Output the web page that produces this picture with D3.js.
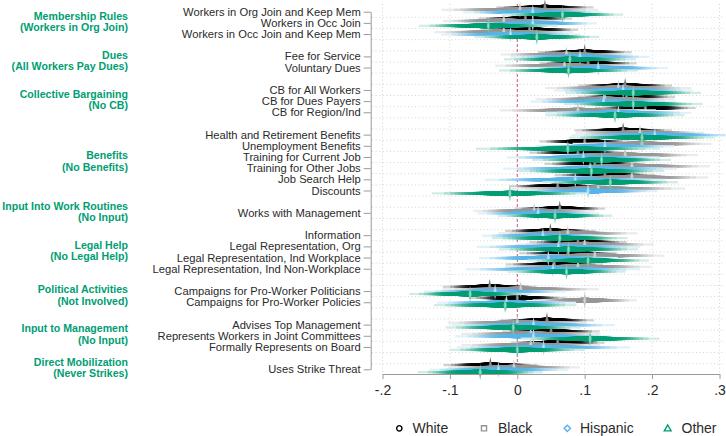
<!DOCTYPE html>
<html>
<head>
<meta charset="utf-8">
<script src="https://cdn.jsdelivr.net/npm/d3@7"></script>
<style>
  body { margin: 0; background: #fff; }
  svg text { font-family: "Liberation Sans", Arial, sans-serif; }
</style>
</head>
<body>
<svg id="chart" width="726" height="436"></svg>
<script>
// ---- data -------------------------------------------------------------
const rowLabels = [
  "Workers in Org Join and Keep Mem", "Workers in Occ Join", "Workers in Occ Join and Keep Mem",
  "Fee for Service", "Voluntary Dues",
  "CB for All Workers", "CB for Dues Payers", "CB for Region/Ind",
  "Health and Retirement Benefits", "Unemployment Benefits", "Training for Current Job",
  "Training for Other Jobs", "Job Search Help", "Discounts",
  "Works with Management",
  "Information", "Legal Representation, Org", "Legal Representation, Ind Workplace",
  "Legal Representation, Ind Non-Workplace",
  "Campaigns for Pro-Worker Politicians", "Campaigns for Pro-Worker Policies",
  "Advises Top Management", "Represents Workers in Joint Committees", "Formally Represents on Board",
  "Uses Strike Threat"
];
const rowGroup = [0,0,0, 1,1, 2,2,2, 3,3,3,3,3,3, 4, 5,5,5,5, 6,6, 7,7,7, 8];
const groupTitles = [
  "Membership Rules", "Dues", "Collective Bargaining", "Benefits", "Input Into Work Routines",
  "Legal Help", "Political Activities", "Input to Management", "Direct Mobilization"
];
const groupBaselines = [
  "(Workers in Org Join)", "(All Workers Pay Dues)", "(No CB)", "(No Benefits)", "(No Input)",
  "(No Legal Help)", "(Not Involved)", "(No Input)", "(Never Strikes)"
];

const seriesNames = ["White", "Black", "Hispanic", "Other"];

// point estimates per respondent group
const estWhite = [0.041, 0.012, 0.018, 0.100, 0.105, 0.160, 0.162, 0.190, 0.157, 0.100, 0.090, 0.115, 0.130,
                  0.060, 0.063, 0.049, 0.090, 0.075, 0.055, -0.041, 0.000, 0.044, 0.050, 0.060, -0.040];
const estBlack = [0.004, -0.020, -0.020, 0.073, 0.070, 0.150, 0.130, 0.090, 0.182, 0.185, 0.160, 0.170, 0.170,
                  0.120, 0.025, 0.075, 0.100, 0.115, 0.090, 0.005, 0.100, 0.000, 0.020, 0.020, -0.005];
const estHispanic = [0.023, 0.023, -0.010, 0.093, 0.120, 0.157, 0.128, 0.150, 0.204, 0.130, 0.098, 0.108, 0.086,
                     0.105, 0.031, 0.038, 0.061, 0.046, 0.053, -0.033, -0.016, 0.024, 0.024, 0.039, -0.028];
const estOther = [0.067, -0.043, 0.029, 0.078, 0.076, 0.172, 0.172, 0.145, 0.185, 0.075, 0.125, 0.110, 0.138,
                  -0.011, 0.056, 0.063, 0.076, 0.105, 0.073, -0.070, -0.018, -0.006, 0.108, 0.000, -0.055];

// standard errors per respondent group
const seWhite = [0.028, 0.027, 0.028, 0.027, 0.028, 0.027, 0.028, 0.029, 0.028, 0.026, 0.028, 0.029, 0.029,
                 0.028, 0.026, 0.026, 0.028, 0.028, 0.028, 0.027, 0.028, 0.027, 0.028, 0.027, 0.027];
const seBlack = [0.045, 0.035, 0.040, 0.038, 0.040, 0.042, 0.040, 0.045, 0.037, 0.040, 0.042, 0.045, 0.044,
                 0.050, 0.035, 0.040, 0.040, 0.040, 0.042, 0.045, 0.030, 0.040, 0.040, 0.040, 0.038];
const seHispanic = [0.040, 0.037, 0.040, 0.040, 0.040, 0.040, 0.042, 0.042, 0.048, 0.040, 0.044, 0.050, 0.052,
                    0.040, 0.035, 0.035, 0.047, 0.040, 0.050, 0.041, 0.040, 0.047, 0.045, 0.050, 0.040];
const seOther = [0.035, 0.040, 0.036, 0.038, 0.040, 0.039, 0.040, 0.040, 0.042, 0.053, 0.040, 0.042, 0.039,
                 0.045, 0.033, 0.039, 0.040, 0.035, 0.034, 0.035, 0.041, 0.039, 0.040, 0.039, 0.036];

const xTickValues = [-0.2, -0.1, 0, 0.1, 0.2, 0.3];
const xTickLabels = ["-.2", "-.1", "0", ".1", ".2", ".3"];

// ---- setup ------------------------------------------------------------
const seriesEst = [estWhite, estBlack, estHispanic, estOther];
const seriesSe = [seWhite, seBlack, seHispanic, seOther];
const seriesColors = ["#000000", "#969696", "#56B4E9", "#009E73"];
const seriesOffset = [-4.3, -1.9, 0.5, 2.9];
const headerColor = "#009E73";
const textColor = "#2a2a2a";
const axisColor = "#9a9a9a";

// slot = row index plus one blank slot between consecutive groups
const rowSlot = rowLabels.map((d, i) => i + rowGroup[i]);
const nSlots = rowSlot[rowSlot.length - 1];

const svg = d3.select("#chart");
const x = d3.scaleLinear().domain([-0.2, 0.3]).range([382.5, 719.5]);
const y = d3.scaleLinear().domain([0, nSlots]).range([11.7, 369.3]);
const plotTop = 4, plotBottom = 374, plotLeft = 372, plotRight = 724;

// inverse standard normal CDF (Acklam)
function qnorm(p) {
  const a = [-3.969683028665376e+01, 2.209460984245205e+02, -2.759285104469687e+02, 1.383577518672690e+02, -3.066479806614716e+01, 2.506628277459239e+00];
  const b = [-5.447609879822406e+01, 1.615858368580409e+02, -1.556989798598866e+02, 6.680131188771972e+01, -1.328068155288572e+01];
  const c = [-7.784894002430293e-03, -3.223964580411365e-01, -2.400758277161838e+00, -2.549671688566470e+00, 4.374664141464968e+00, 2.938163982698783e+00];
  const d = [7.784695709041462e-03, 3.224671290700398e-01, 2.445134137142996e+00, 3.754408661907416e+00];
  const plow = 0.02425, phigh = 1 - plow;
  let q, r;
  if (p < plow) {
    q = Math.sqrt(-2 * Math.log(p));
    return (((((c[0]*q+c[1])*q+c[2])*q+c[3])*q+c[4])*q+c[5]) / ((((d[0]*q+d[1])*q+d[2])*q+d[3])*q+1);
  }
  if (p <= phigh) {
    q = p - 0.5; r = q * q;
    return (((((a[0]*r+a[1])*r+a[2])*r+a[3])*r+a[4])*r+a[5])*q / (((((b[0]*r+b[1])*r+b[2])*r+b[3])*r+b[4])*r+1);
  }
  q = Math.sqrt(-2 * Math.log(1 - p));
  return -(((((c[0]*q+c[1])*q+c[2])*q+c[3])*q+c[4])*q+c[5]) / ((((d[0]*q+d[1])*q+d[2])*q+d[3])*q+1);
}

// ---- grid -------------------------------------------------------------
const grid = svg.append("g");
grid.selectAll("line.h")
  .data(d3.range(0, nSlots).map(i => i + 0.5))
  .join("line")
  .attr("x1", plotLeft).attr("x2", plotRight)
  .attr("y1", d => y(d)).attr("y2", d => y(d))
  .attr("stroke", "#c8c8c8").attr("stroke-width", 0.8)
  .attr("stroke-dasharray", "1,2.6");
grid.selectAll("line.v")
  .data(xTickValues.filter(v => v !== 0))
  .join("line")
  .attr("x1", d => x(d)).attr("x2", d => x(d))
  .attr("y1", plotTop).attr("y2", plotBottom)
  .attr("stroke", "#c8c8c8").attr("stroke-width", 0.8)
  .attr("stroke-dasharray", "1,2.6");
grid.append("line")
  .attr("x1", x(0)).attr("x2", x(0))
  .attr("y1", plotTop).attr("y2", plotBottom)
  .attr("stroke", "#cc3d6a").attr("stroke-width", 0.9)
  .attr("stroke-dasharray", "3,2");

// ---- smoothed confidence intervals -----------------------------------
const nLevels = 50;
const levels = d3.range(nLevels).map(k => (1 + 98 * k / (nLevels - 1)) / 100);
const thick = L => 2.2 + 3.4 * (1 - (L - 0.01) / 0.98);
const intensity = L => 1 - 0.9 * Math.pow(L, 10);

const marks = svg.append("g");
seriesEst.forEach((est, s) => {
  const col = seriesColors[s];
  const tint = d3.interpolateRgb("#ffffff", col);
  const g = marks.append("g");
  est.forEach((b, r) => {
    const se = seriesSe[s][r];
    const yc = y(rowSlot[r]) + seriesOffset[s];
    const rows = levels.slice().reverse().map(L => ({ L, h: qnorm((1 + L) / 2) * se }));
    g.selectAll(null)
      .data(rows)
      .join("rect")
      .attr("x", d => x(b - d.h))
      .attr("width", d => x(b + d.h) - x(b - d.h))
      .attr("y", d => yc - thick(d.L) / 2)
      .attr("height", d => thick(d.L))
      .attr("fill", d => tint(intensity(d.L)));
    // point estimate marker
    const xm = x(b);
    g.append("path")
      .attr("d", `M${xm},${yc - 8}L${xm + 1.6},${yc}L${xm},${yc + 8}L${xm - 1.6},${yc}Z`)
      .attr("fill", tint(0.55));
    g.append("line")
      .attr("x1", xm).attr("x2", xm)
      .attr("y1", yc - 2.5).attr("y2", yc + 2.5)
      .attr("stroke", "#fff").attr("stroke-width", 0.5).attr("opacity", 0.6);
  });
});

// ---- axes -------------------------------------------------------------
const xAxis = svg.append("g")
  .attr("transform", `translate(0,${plotBottom})`)
  .call(d3.axisBottom(x).tickValues(xTickValues)
    .tickFormat((d, i) => xTickLabels[i]).tickSize(5).tickSizeOuter(0).tickPadding(6));
xAxis.select(".domain").attr("stroke", axisColor);
xAxis.selectAll(".tick line").attr("stroke", axisColor);
xAxis.selectAll(".tick text")
  .attr("fill", textColor).style("font-size", "14px")
  .style("font-family", '"Liberation Sans", Arial, sans-serif');

const yAxis = svg.append("g")
  .attr("transform", `translate(${370.7},0)`)
  .call(d3.axisLeft(y).tickValues(rowSlot)
    .tickFormat(d => rowLabels[rowSlot.indexOf(d)]).tickSize(7).tickSizeOuter(0).tickPadding(3));
yAxis.select(".domain").attr("stroke", axisColor);
yAxis.selectAll(".tick line").attr("stroke", axisColor);
yAxis.selectAll(".tick text")
  .attr("fill", textColor).style("font-size", "11.2px")
  .style("font-family", '"Liberation Sans", Arial, sans-serif');

// ---- group headers ----------------------------------------------------
const headers = svg.append("g");
groupTitles.forEach((title, gi) => {
  const slots = rowSlot.filter((s, i) => rowGroup[i] === gi);
  const yc = y(d3.mean(slots));
  const t = headers.append("text")
    .attr("text-anchor", "end")
    .attr("fill", headerColor)
    .style("font-size", "10.6px").style("font-weight", "bold");
  t.append("tspan").attr("x", 128).attr("y", yc - 7).attr("dy", "0.35em").text(title);
  t.append("tspan").attr("x", 128).attr("y", yc + 4.4).attr("dy", "0.35em").text(groupBaselines[gi]);
});

// ---- legend -----------------------------------------------------------
const legendY = 428.3;
const legendMarkX = [399.3, 484, 567.3, 667.7];
const legendTextX = [412.5, 498, 580, 681.5];
const symbols = [d3.symbolCircle, d3.symbolSquare, d3.symbolSquare, d3.symbolTriangle];
const symbolSizes = [22, 26, 20, 20];
const symbolRotate = [0, 0, 45, 0];
const legend = svg.append("g");
seriesNames.forEach((name, s) => {
  legend.append("path")
    .attr("transform", `translate(${legendMarkX[s]},${legendY + (s === 3 ? 0.6 : 0)}) rotate(${symbolRotate[s]})`)
    .attr("d", d3.symbol(symbols[s], symbolSizes[s])())
    .attr("fill", "none")
    .attr("stroke", seriesColors[s]).attr("stroke-width", 1.4);
  legend.append("text")
    .attr("x", legendTextX[s]).attr("y", legendY).attr("dy", "0.35em")
    .attr("fill", textColor).style("font-size", "14px")
    .text(name);
});
</script>
</body>
</html>
